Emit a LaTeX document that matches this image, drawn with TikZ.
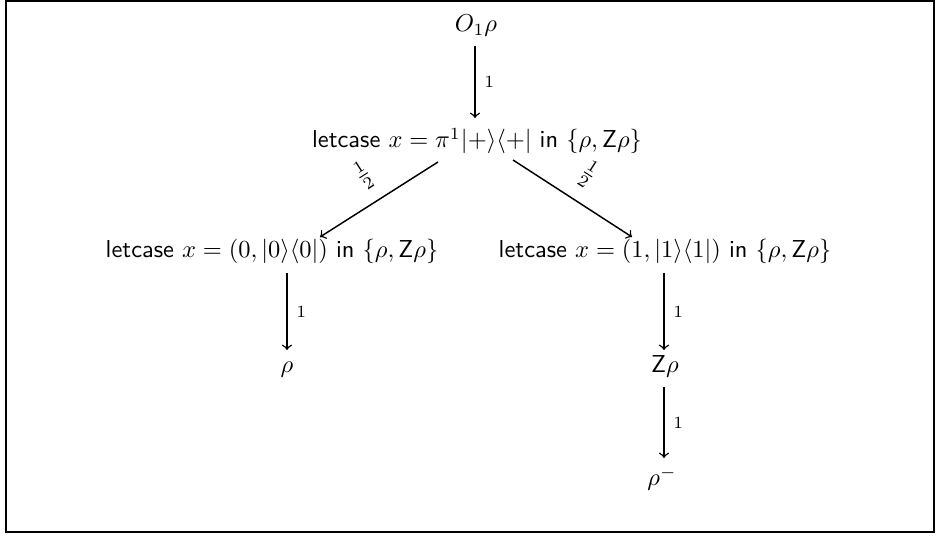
\documentclass[tikz,border=0pt]{standalone}
\usetikzlibrary{calc}
\begin{document}
\begin{tikzpicture}[x=0.409pt,y=-0.409pt,
  lbl/.style={anchor=base,inner sep=0pt},
  conn/.style={->,line width=0.6pt},
  one/.style={right,font=\scriptsize,inner sep=3.5pt},
  half/.style={midway,sloped,above=5.5pt,inner sep=0pt}]
\useasboundingbox (0,0) rectangle (940,536);
\draw[line width=0.8pt] (5.7,0.8) rectangle (934.3,532.3);
\node[lbl] (top) at (476,32) {$O_1\rho$};
\node[lbl] (mid) at (477,148) {\textsf{letcase} $x=\pi^1|{+}\rangle\langle{+}|$ \textsf{in} $\{\rho,\mathsf{Z}\rho\}$};
\node[lbl] (left) at (272,258) {\textsf{letcase} $x=(0,|0\rangle\langle 0|)$ \textsf{in} $\{\rho,\mathsf{Z}\rho\}$};
\node[lbl] (right) at (665,258) {\textsf{letcase} $x=(1,|1\rangle\langle 1|)$ \textsf{in} $\{\rho,\mathsf{Z}\rho\}$};
\node[lbl] (rho) at (287,373) {$\rho$};
\node[lbl] (zrho) at (665,373) {$\mathsf{Z}\rho$};
\node[lbl] (rhom) at (662,486) {$\rho^-$};
\draw[conn] ($(top.base)+(-1,14)$) -- node[one]{1} ($(mid.base)+(-2,-30)$);
\draw[conn] ($(mid.base)+(-39,14)$) -- node[half]{$\frac12$} ($(left.base)+(48,-21)$);
\draw[conn] ($(mid.base)+(36,12)$) -- node[half]{$\frac12$} ($(right.base)+(-33,-21)$);
\draw[conn] ($(left.base)+(15,15)$) -- node[one]{1} ($(rho.base)+(0,-23)$);
\draw[conn] ($(right.base)+(-1,15)$) -- node[one]{1} ($(zrho.base)+(-1,-23)$);
\draw[conn] ($(zrho.base)+(-1,14)$) -- node[one]{1} ($(rhom.base)+(2,-28)$);
\end{tikzpicture}
\end{document}
